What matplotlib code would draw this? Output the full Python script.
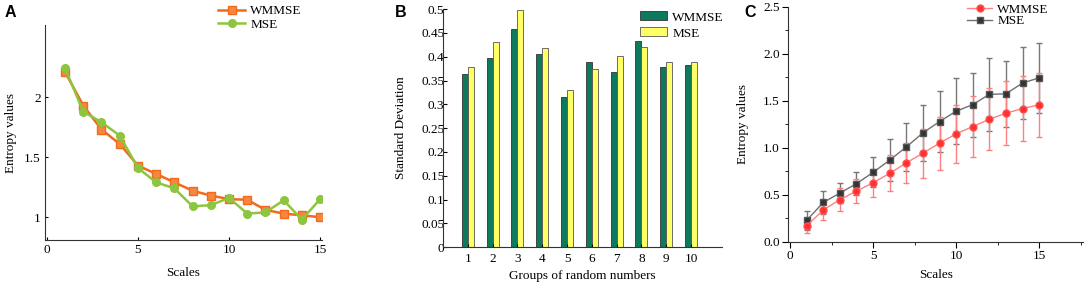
import numpy as np
import matplotlib
matplotlib.use('Agg')
from matplotlib import pyplot as plt
from matplotlib.lines import Line2D

plt.rcParams['font.family'] = ['Liberation Serif', 'DejaVu Serif']
plt.rcParams['font.size'] = 9.5

# panel A: entropy vs scale
scales_a = [1, 2, 3, 4, 5, 6, 7, 8, 9, 10, 11, 12, 13, 14, 15]
wmmse_a = [2.21, 1.93, 1.73, 1.61, 1.43, 1.36, 1.29, 1.22, 1.18, 1.15, 1.145, 1.06, 1.03, 1.015, 1.0]
mse_a = [2.24, 1.88, 1.79, 1.68, 1.41, 1.29, 1.24, 1.09, 1.10, 1.16, 1.03, 1.04, 1.14, 0.98, 1.15]

# panel B: standard deviation per group
groups_b = [1, 2, 3, 4, 5, 6, 7, 8, 9, 10]
wmmse_b = [0.364, 0.397, 0.458, 0.406, 0.315, 0.388, 0.367, 0.433, 0.379, 0.382]
mse_b = [0.379, 0.430, 0.499, 0.419, 0.330, 0.374, 0.401, 0.421, 0.388, 0.388]

# panel C: mean entropy with error bars
scales_c = [1, 2, 3, 4, 5, 6, 7, 8, 9, 10, 11, 12, 13, 14, 15]
wmmse_c = [0.17, 0.34, 0.45, 0.54, 0.63, 0.73, 0.84, 0.945, 1.05, 1.15, 1.227, 1.305, 1.369, 1.419, 1.458]
wmmse_c_err = [0.07, 0.11, 0.12, 0.13, 0.15, 0.19, 0.21, 0.26, 0.28, 0.31, 0.32, 0.33, 0.34, 0.35, 0.34]
mse_c = [0.23, 0.42, 0.52, 0.62, 0.74, 0.87, 1.01, 1.16, 1.28, 1.39, 1.46, 1.57, 1.575, 1.69, 1.745]
mse_c_err = [0.10, 0.12, 0.11, 0.12, 0.16, 0.22, 0.26, 0.30, 0.32, 0.35, 0.34, 0.39, 0.35, 0.38, 0.37]

fig = plt.figure(figsize=(10.84, 2.85), dpi=100)

ax_a = fig.add_axes([0.0415, 0.158, 0.2555, 0.754])
ax_b = fig.add_axes([0.4087, 0.133, 0.2574, 0.835])
ax_c = fig.add_axes([0.727, 0.151, 0.273, 0.825])

for ax in (ax_a, ax_b, ax_c):
    ax.spines['top'].set_visible(False)
    ax.spines['right'].set_visible(False)
    ax.spines['left'].set_color('#333333')
    ax.spines['bottom'].set_color('#333333')

# ---- A
ax_a.plot(scales_a, wmmse_a, color='#f26a1b', lw=1.8, marker='s', ms=5.5,
          mfc='#f5873f', mec='#f26a1b', label='WMMSE')
ax_a.plot(scales_a, mse_a, color='#8cc63f', lw=1.8, marker='o', ms=5.5,
          mfc='#8cc63f', mec='#8cc63f', label='MSE')
ax_a.set_xlim(-0.1, 15.1)
ax_a.set_ylim(0.81, 2.6)
ax_a.set_xticks([0, 5, 10, 15])
ax_a.set_yticks([1, 1.5, 2])
ax_a.set_yticklabels(['1', '1.5', '2'])
ax_a.tick_params(direction='in', length=2, pad=3)
ax_a.set_xlabel('Scales', labelpad=8)
ax_a.set_ylabel('Entropy values', labelpad=5)
ax_a.legend(loc='upper left', bbox_to_anchor=(0.625, 1.093), frameon=False,
            handlelength=2.05, handletextpad=0.4, labelspacing=0.1,
            borderpad=0, borderaxespad=0)
fig.text(0.004, 0.955, 'A', family='Liberation Sans', weight='bold', fontsize=11.5, va='center')

# ---- B
x_b = np.array(groups_b)
bw = 0.24
ax_b.bar(x_b - bw / 2, wmmse_b, width=bw, color='#0d7a5d', edgecolor='#333333',
         lw=0.6, label='WMMSE')
ax_b.bar(x_b + bw / 2, mse_b, width=bw, color='#ffff66', edgecolor='#555555',
         lw=0.6, label='MSE')
ax_b.set_xlim(0, 11.25)
ax_b.set_ylim(0, 0.5)
ax_b.set_xticks(groups_b)
ax_b.set_yticks(np.arange(0, 0.51, 0.05))
ax_b.set_yticklabels(['0', '0.05', '0.1', '0.15', '0.2', '0.25', '0.3', '0.35',
                      '0.4', '0.45', '0.5'])
ax_b.tick_params(axis='y', direction='in', length=3, pad=-1)
ax_b.tick_params(axis='x', direction='in', length=2, pad=4)
ax_b.set_xlabel('Groups of random numbers', labelpad=4)
ax_b.set_ylabel('Standard Deviation', labelpad=10)
ax_b.legend(loc='upper left', bbox_to_anchor=(0.706, 0.99), frameon=False,
            handlelength=2.05, handleheight=0.65, handletextpad=0.4,
            labelspacing=0.3, borderpad=0, borderaxespad=0)
fig.text(0.364, 0.955, 'B', family='Liberation Sans', weight='bold', fontsize=11.5, va='center')

# ---- C
ax_c.errorbar(scales_c, mse_c, yerr=mse_c_err, color='#707070', lw=1.0,
              marker='s', ms=4.5, mfc='#333333', mec='#555555',
              ecolor='#777777', elinewidth=1.0, capsize=2.5, capthick=1.0)
ax_c.errorbar(scales_c, wmmse_c, yerr=wmmse_c_err, color='#ff8080', lw=1.0,
              marker='o', ms=5, mfc='#ff3030', mec='#ff5050',
              ecolor='#ff8080', elinewidth=1.0, capsize=2.5, capthick=1.0)
ax_c.set_xlim(-0.12, 17.7)
ax_c.set_ylim(0, 2.5)
ax_c.set_xticks([0, 5, 10, 15])
ax_c.set_xticks([2.5, 7.5, 12.5, 17.5], minor=True)
ax_c.set_yticks([0, 0.5, 1.0, 1.5, 2.0, 2.5])
ax_c.set_yticks([0.25, 0.75, 1.25, 1.75, 2.25], minor=True)
ax_c.set_yticklabels(['0.0', '0.5', '1.0', '1.5', '2.0', '2.5'])
ax_c.tick_params(which='major', direction='out', length=4, pad=2)
ax_c.tick_params(which='minor', direction='out', length=2)
ax_c.set_xlabel('Scales', labelpad=5)
ax_c.set_ylabel('Entropy values', labelpad=10)
leg_c = [Line2D([], [], color='#ff8080', lw=1.0, marker='o', ms=5,
                mfc='#ff3030', mec='#ff5050'),
         Line2D([], [], color='#707070', lw=1.0, marker='s', ms=4.5,
                mfc='#333333', mec='#555555')]
ax_c.legend(leg_c, ['WMMSE', 'MSE'], loc='upper left', bbox_to_anchor=(0.605, 1.015),
            frameon=False, handlelength=1.9, handletextpad=0.4,
            labelspacing=-0.05, borderpad=0, borderaxespad=0)
fig.text(0.687, 0.955, 'C', family='Liberation Sans', weight='bold', fontsize=11.5, va='center')

fig.savefig('out.png', dpi=100)
